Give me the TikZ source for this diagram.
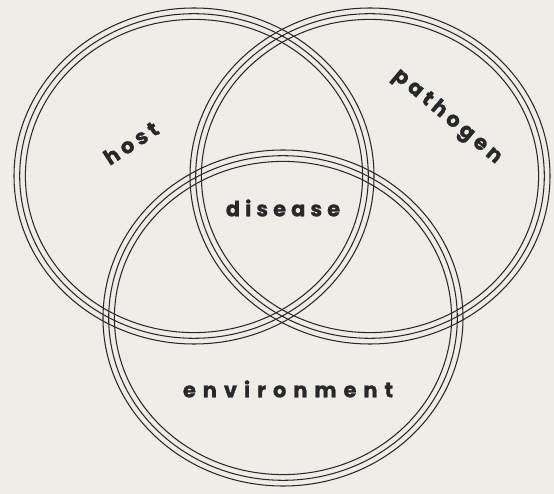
\documentclass[tikz,border=0pt]{standalone}
\usepackage{fontspec}
\setmainfont{Poppins}
\definecolor{paper}{RGB}{238,237,232}
\definecolor{ink}{RGB}{40,40,40}
\tikzset{
  ringline/.style={draw=ink, line width=1.05pt},
  lbl/.style={text=ink, inner sep=0pt, font=\bfseries\fontsize{21}{23}\selectfont\addfontfeature{FakeBold=1.2}},
}
\newcommand{\tripring}[1]{%
  \foreach \dd in {0,5.7,11.4}{
    \draw[ringline] (#1) ellipse [x radius={180pt-\dd pt}, y radius={168pt-\dd pt}];
  }}
\begin{document}
\begin{tikzpicture}[x=1pt,y=-1pt]
  \fill[paper] (0,0) rectangle (554,494);
  \useasboundingbox (0,0) rectangle (554,494);
  \coordinate (hostc) at (194,176);
  \coordinate (pathc) at (370,176);
  \coordinate (envc) at (283,318);
  \tripring{hostc}
  \tripring{pathc}
  \tripring{envc}
  \node[lbl, rotate=33] (host) at (131,143) {\addfontfeature{LetterSpace=20}host};
  \node[lbl, rotate=-40] (pathogen) at (447,117) {\addfontfeature{LetterSpace=20}pathogen};
  \node[lbl] (disease) at (283,208) {\addfontfeature{LetterSpace=24}disease};
  \node[lbl] (environment) at (288,389) {\addfontfeature{LetterSpace=33}environment};
\end{tikzpicture}
\end{document}
